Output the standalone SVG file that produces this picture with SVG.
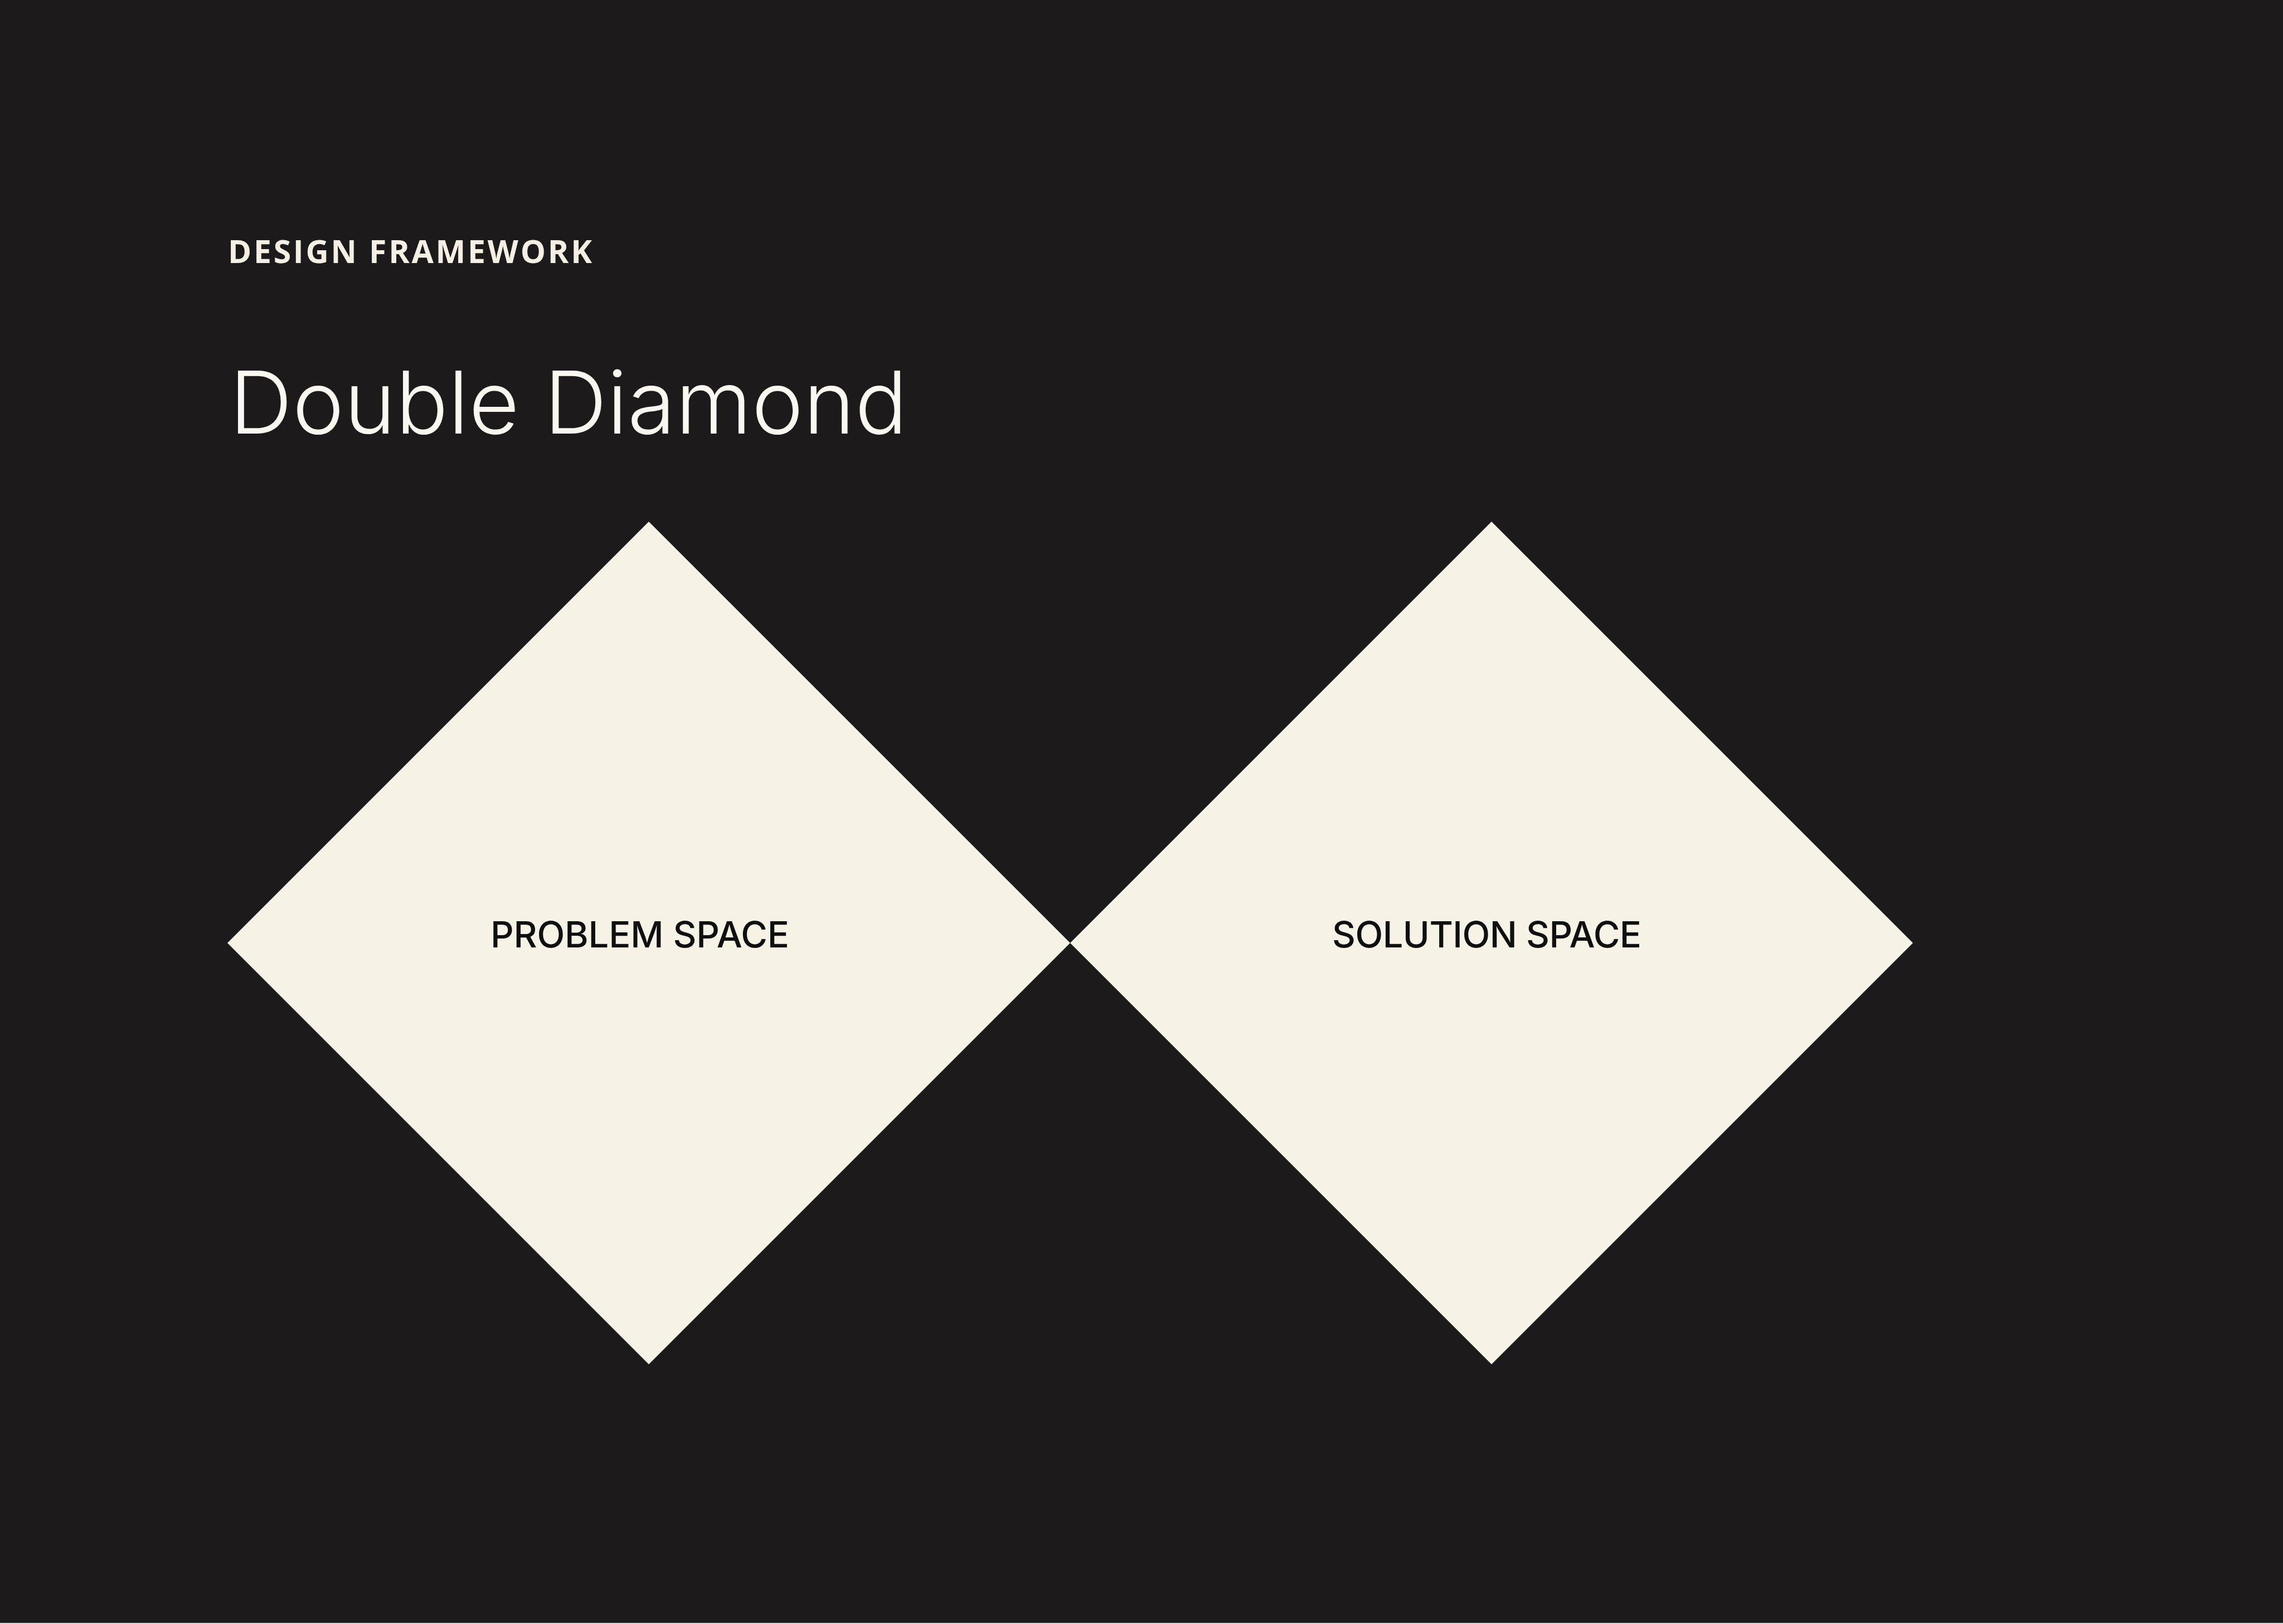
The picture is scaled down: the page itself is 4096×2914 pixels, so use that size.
<svg xmlns="http://www.w3.org/2000/svg" width="4096" height="2914" viewBox="0 0 4096 2914">
<style>
.bg{fill:#1c1a1b}
.diamond{fill:#f7f2e6}
.eyebrow{font-family:"Open Sans","Liberation Sans",sans-serif;font-weight:700;font-size:57px;fill:#f4efe2;letter-spacing:5px}
.title{font-family:Inter,"Liberation Sans",sans-serif;font-weight:300;font-size:156px;fill:#faf7f0}
.label{font-family:Inter,"Liberation Sans",sans-serif;font-weight:500;font-size:65px;fill:#111010}
</style>
<rect x="0" y="0" width="4096" height="2914" fill="#d6d6d6"/>
<rect class="bg" x="0" y="0" width="4096" height="2912"/>
<g id="header">
<text class="eyebrow" x="409" y="472" textLength="658" lengthAdjust="spacing">DESIGN FRAMEWORK</text>
<text class="title" x="412" y="778" textLength="1216" lengthAdjust="spacing">Double Diamond</text>
</g>
<g id="connectors"/>
<g id="problem-space">
<polygon class="diamond" points="1164,936 1920,1692 1164,2448 408,1692"/>
<text class="label" x="880" y="1700" textLength="536" lengthAdjust="spacing">PROBLEM SPACE</text>
</g>
<g id="solution-space">
<polygon class="diamond" points="2676,936 3432,1692 2676,2448 1920,1692"/>
<text class="label" x="2390" y="1700" textLength="555" lengthAdjust="spacing">SOLUTION SPACE</text>
</g>
</svg>
